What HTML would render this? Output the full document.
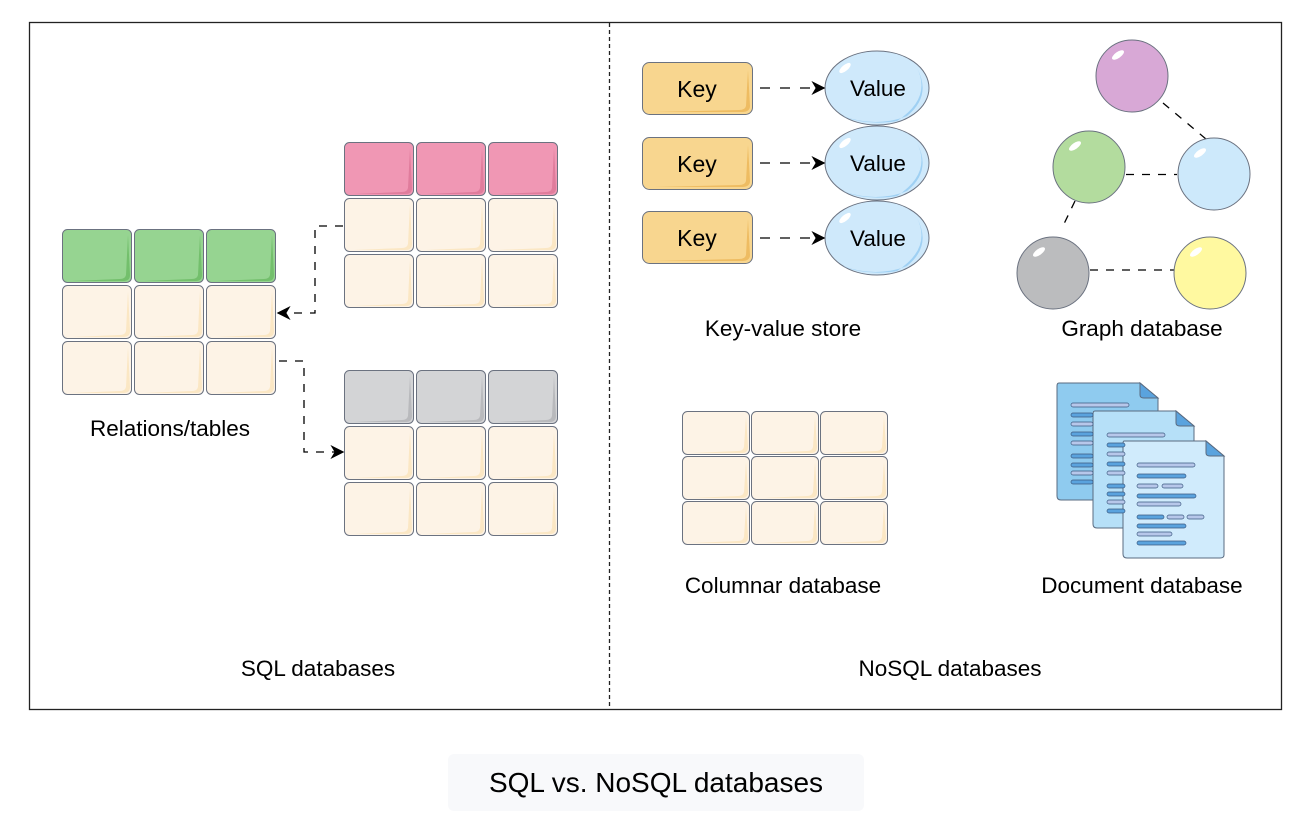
<!DOCTYPE html>
<html><head><meta charset="utf-8"><style>
html,body{margin:0;padding:0;background:#fff;}
body{width:1302px;height:832px;overflow:hidden;position:relative;font-family:"Liberation Sans",Arial,sans-serif;}
svg text{font-family:"Liberation Sans",Arial,sans-serif;fill:#000;}
</style></head><body>
<svg width="1302" height="832" viewBox="0 0 1302 832" xmlns="http://www.w3.org/2000/svg">
<defs>
<g id="cc"><rect x="0.5" y="0.5" width="69" height="53" rx="5" fill="#fdf3e6" stroke="#6b7280" stroke-width="1"/><path d="M66 6 L64 46 Q63 50 58 50 L10 52 L62 52 Q68 52 68 46 Z" fill="#fbe7c4"/></g>
<g id="cg"><rect x="0.5" y="0.5" width="69" height="53" rx="5" fill="#96d491" stroke="#6b7280"/><path d="M66 6 L64 46 Q63 50 58 50 L10 52 L62 52 Q68 52 68 46 Z" fill="#73bf6c"/></g>
<g id="cp"><rect x="0.5" y="0.5" width="69" height="53" rx="5" fill="#f097b4" stroke="#6b7280"/><path d="M66 6 L64 46 Q63 50 58 50 L10 52 L62 52 Q68 52 68 46 Z" fill="#e07c9c"/></g>
<g id="cy"><rect x="0.5" y="0.5" width="69" height="53" rx="5" fill="#d3d4d6" stroke="#6b7280"/><path d="M66 6 L64 46 Q63 50 58 50 L10 52 L62 52 Q68 52 68 46 Z" fill="#b8b9bc"/></g>
<g id="cs"><rect x="0.5" y="0.5" width="67" height="43" rx="5" fill="#fdf3e6" stroke="#6b7280"/><path d="M64 6 L62 36 Q61 40 56 40 L10 42 L60 42 Q66 42 66 36 Z" fill="#fbe7c4"/></g>
<g id="key"><rect x="0.5" y="0.5" width="110" height="52" rx="7" fill="#f8d68f" stroke="#6b7280"/><path d="M106 8 L104 44 Q103 48 97 48 L12 50 L100 50 Q108 50 108 44 Z" fill="#eebc62"/></g>
<g id="val"><ellipse cx="0" cy="0" rx="52" ry="37" fill="#cfe9fb" stroke="#6b7280"/><path d="M40 -20 Q55 10 20 33 Q-10 38 -35 28 Q0 40 30 28 Q55 8 40 -20Z" fill="#9fd0f3"/><ellipse cx="-32" cy="-20" rx="7" ry="3" transform="rotate(-40 -32 -20)" fill="#fff"/></g>
<marker id="ah" viewBox="0 0 10 10" refX="9" refY="5" markerWidth="14" markerHeight="14" orient="auto" markerUnits="userSpaceOnUse"><path d="M0 0 L10 5 L0 10 L3 5Z" fill="#000"/></marker>
</defs>

<rect x="29.5" y="22.5" width="1252" height="687" fill="#fff" stroke="#222" stroke-width="1.3"/>
<line x1="609.5" y1="23" x2="609.5" y2="709" stroke="#222" stroke-width="1.3" stroke-dasharray="4 3"/>

<g transform="translate(62,229)"><use href="#cg"/><use href="#cg" x="72"/><use href="#cg" x="144"/>
<use href="#cc" y="56"/><use href="#cc" x="72" y="56"/><use href="#cc" x="144" y="56"/>
<use href="#cc" y="112"/><use href="#cc" x="72" y="112"/><use href="#cc" x="144" y="112"/></g>
<g transform="translate(344,142)"><use href="#cp"/><use href="#cp" x="72"/><use href="#cp" x="144"/>
<use href="#cc" y="56"/><use href="#cc" x="72" y="56"/><use href="#cc" x="144" y="56"/>
<use href="#cc" y="112"/><use href="#cc" x="72" y="112"/><use href="#cc" x="144" y="112"/></g>
<g transform="translate(344,370)"><use href="#cy"/><use href="#cy" x="72"/><use href="#cy" x="144"/>
<use href="#cc" y="56"/><use href="#cc" x="72" y="56"/><use href="#cc" x="144" y="56"/>
<use href="#cc" y="112"/><use href="#cc" x="72" y="112"/><use href="#cc" x="144" y="112"/></g>

<path d="M343 226 H315 V313 H278" fill="none" stroke="#000" stroke-width="1.3" stroke-dasharray="8 8" marker-end="url(#ah)"/>
<path d="M279 361 H304 V452 H343" fill="none" stroke="#000" stroke-width="1.3" stroke-dasharray="8 8" marker-end="url(#ah)"/>

<text x="170" y="436" font-size="22.5" text-anchor="middle">Relations/tables</text>
<text x="318" y="676" font-size="22.5" text-anchor="middle">SQL databases</text>

<use href="#key" x="642" y="62"/><use href="#key" x="642" y="137"/><use href="#key" x="642" y="211"/>
<text x="697" y="97" font-size="23" text-anchor="middle">Key</text>
<text x="697" y="172" font-size="23" text-anchor="middle">Key</text>
<text x="697" y="246" font-size="23" text-anchor="middle">Key</text>
<use href="#val" x="877" y="88"/><use href="#val" x="877" y="163"/><use href="#val" x="877" y="238"/>
<text x="878" y="96" font-size="22.5" text-anchor="middle">Value</text>
<text x="878" y="171" font-size="22.5" text-anchor="middle">Value</text>
<text x="878" y="246" font-size="22.5" text-anchor="middle">Value</text>
<g fill="none" stroke="#000" stroke-width="1.3" stroke-dasharray="10 10" marker-end="url(#ah)">
<path d="M760 88 H824"/><path d="M760 163 H824"/><path d="M760 238 H824"/></g>
<text x="783" y="336" font-size="22.5" text-anchor="middle">Key-value store</text>

<g stroke="#000" stroke-width="1.3" stroke-dasharray="8 8" fill="none">
<path d="M1163 103 L1206 139"/><path d="M1126 174.5 H1177"/><path d="M1075 201 L1062 228"/><path d="M1090 270 H1174"/></g>
<g stroke="#6b7280" stroke-width="1">
<circle cx="1132" cy="76" r="36" fill="#d8a8d6"/>
<circle cx="1089" cy="167" r="36" fill="#b3dc9e"/>
<circle cx="1214" cy="174" r="36" fill="#cde9fb"/>
<circle cx="1053" cy="273" r="36" fill="#bbbcbe"/>
<circle cx="1210" cy="273" r="36" fill="#fff9a0"/></g>
<g fill="#fff"><ellipse cx="1118" cy="55" rx="7" ry="3" transform="rotate(-35 1118 55)"/><ellipse cx="1075" cy="146" rx="7" ry="3" transform="rotate(-35 1075 146)"/><ellipse cx="1200" cy="153" rx="7" ry="3" transform="rotate(-35 1200 153)"/><ellipse cx="1039" cy="252" rx="7" ry="3" transform="rotate(-35 1039 252)"/><ellipse cx="1196" cy="252" rx="7" ry="3" transform="rotate(-35 1196 252)"/></g>
<text x="1142" y="336" font-size="22.5" text-anchor="middle">Graph database</text>

<g transform="translate(682,411)"><use href="#cs"/><use href="#cs" x="69"/><use href="#cs" x="138"/>
<use href="#cs" y="45"/><use href="#cs" x="69" y="45"/><use href="#cs" x="138" y="45"/>
<use href="#cs" y="90"/><use href="#cs" x="69" y="90"/><use href="#cs" x="138" y="90"/></g>
<text x="783" y="593" font-size="22.5" text-anchor="middle">Columnar database</text>

<g stroke="#5a6b80" stroke-width="1">
<path d="M1059 383 H1140 L1158 398 V497 Q1158 500 1154 500 H1061 Q1057 500 1057 496 V386 Q1057 383 1059 383Z" fill="#8fcbef"/>
<path d="M1140 383 V395 Q1140 398 1144 398 H1158Z" fill="#5aa3de"/>
<path d="M1095 411 H1176 L1194 426 V525 Q1194 528 1190 528 H1097 Q1093 528 1093 524 V414 Q1093 411 1095 411Z" fill="#b6e0f8"/>
<path d="M1176 411 V423 Q1176 426 1180 426 H1194Z" fill="#5aa3de"/>
<path d="M1124 441 H1206 L1224 456 V555 Q1224 558 1220 558 H1127 Q1123 558 1123 554 V444 Q1123 441 1124 441Z" fill="#d0ebfc"/>
<path d="M1206 441 V453 Q1206 456 1210 456 H1224Z" fill="#5aa3de"/>
</g>
<g stroke="#3c5a80" stroke-width="0.7">
<rect x="1071" y="403" width="58" height="4" rx="2" fill="#b7c7ea"/>
<rect x="1071" y="413" width="22" height="4" rx="2" fill="#5aa3de"/><rect x="1071" y="422" width="22" height="4" rx="2" fill="#b7c7ea"/><rect x="1071" y="432" width="22" height="4" rx="2" fill="#5aa3de"/><rect x="1071" y="441" width="22" height="4" rx="2" fill="#b7c7ea"/><rect x="1071" y="454" width="22" height="4" rx="2" fill="#5aa3de"/><rect x="1071" y="463" width="22" height="4" rx="2" fill="#5aa3de"/><rect x="1071" y="471" width="22" height="4" rx="2" fill="#b7c7ea"/><rect x="1071" y="480" width="22" height="4" rx="2" fill="#5aa3de"/>
<rect x="1107" y="433" width="58" height="4" rx="2" fill="#b7c7ea"/>
<rect x="1107" y="443" width="18" height="4" rx="2" fill="#5aa3de"/><rect x="1107" y="452" width="18" height="4" rx="2" fill="#b7c7ea"/><rect x="1107" y="462" width="18" height="4" rx="2" fill="#5aa3de"/><rect x="1107" y="471" width="18" height="4" rx="2" fill="#b7c7ea"/><rect x="1107" y="484" width="18" height="4" rx="2" fill="#5aa3de"/><rect x="1107" y="492" width="18" height="4" rx="2" fill="#5aa3de"/><rect x="1107" y="500" width="18" height="4" rx="2" fill="#b7c7ea"/><rect x="1107" y="509" width="18" height="4" rx="2" fill="#5aa3de"/>
<rect x="1137" y="463" width="58" height="4" rx="2" fill="#b7c7ea"/>
<rect x="1137" y="474" width="49" height="4" rx="2" fill="#5aa3de"/>
<rect x="1137" y="484" width="21" height="4" rx="2" fill="#b7c7ea"/><rect x="1162" y="484" width="21" height="4" rx="2" fill="#b7c7ea"/>
<rect x="1137" y="494" width="59" height="4" rx="2" fill="#5aa3de"/>
<rect x="1137" y="502" width="44" height="4" rx="2" fill="#b7c7ea"/>
<rect x="1137" y="515" width="27" height="4" rx="2" fill="#5aa3de"/><rect x="1167" y="515" width="17" height="4" rx="2" fill="#b7c7ea"/><rect x="1187" y="515" width="17" height="4" rx="2" fill="#b7c7ea"/>
<rect x="1137" y="524" width="49" height="4" rx="2" fill="#5aa3de"/>
<rect x="1137" y="532" width="35" height="4" rx="2" fill="#b7c7ea"/>
<rect x="1137" y="541" width="49" height="4" rx="2" fill="#5aa3de"/>
</g>
<text x="1142" y="593" font-size="22.5" text-anchor="middle">Document database</text>

<text x="950" y="676" font-size="22.5" text-anchor="middle">NoSQL databases</text>

<rect x="448" y="754" width="416" height="57" rx="6" fill="#f8f9fb"/>
<text x="656" y="792" font-size="28" text-anchor="middle">SQL vs. NoSQL databases</text>
</svg>
</body></html>
